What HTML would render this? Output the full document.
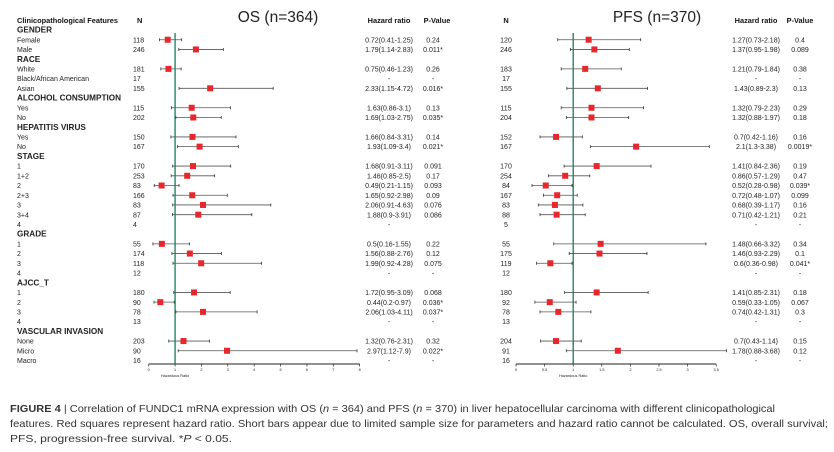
<!DOCTYPE html>
<html><head><meta charset="utf-8">
<style>
html,body{margin:0;padding:0;background:#fff;}
svg{display:block;font-family:"Liberation Sans",Arial,sans-serif;}
</style></head>
<body>
<svg id="fig" width="834" height="452" viewBox="0 0 834 452" xmlns="http://www.w3.org/2000/svg">
<text x="278" y="22" font-size="15.5" text-anchor="middle" fill="#222">OS (n=364)</text>
<text x="657" y="22" font-size="15.5" text-anchor="middle" fill="#222">PFS (n=370)</text>
<text x="17" y="23" font-size="7.4" font-weight="bold" fill="#111">Clinicopathological Features</text>
<text x="137" y="23" font-size="7.4" font-weight="bold" fill="#111">N</text>
<text x="389" y="23" font-size="7.4" font-weight="bold" text-anchor="middle" fill="#111">Hazard ratio</text>
<text x="437" y="23" font-size="7.4" font-weight="bold" text-anchor="middle" fill="#111">P-Value</text>
<text x="506" y="23" font-size="7.4" font-weight="bold" text-anchor="middle" fill="#111">N</text>
<text x="756" y="23" font-size="7.4" font-weight="bold" text-anchor="middle" fill="#111">Hazard ratio</text>
<text x="800" y="23" font-size="7.4" font-weight="bold" text-anchor="middle" fill="#111">P-Value</text>
<g id="rows"></g>
<g id="os"></g>
<g id="pfs"></g>
<g font-size="10.5" fill="#333">
<text x="10" y="412" textLength="765" lengthAdjust="spacingAndGlyphs"><tspan font-weight="bold">FIGURE 4</tspan> | Correlation of FUNDC1 mRNA expression with OS (<tspan font-style="italic">n</tspan> = 364) and PFS (<tspan font-style="italic">n</tspan> = 370) in liver hepatocellular carcinoma with different clinicopathological</text>
<text x="10" y="427" textLength="818" lengthAdjust="spacingAndGlyphs">features. Red squares represent hazard ratio. Short bars appear due to limited sample size for parameters and hazard ratio cannot be calculated. OS, overall survival;</text>
<text x="10" y="442" textLength="222" lengthAdjust="spacingAndGlyphs">PFS, progression-free survival. *<tspan font-style="italic">P</tspan> &lt; 0.05.</text>
</g>
</svg>
<script>
const labels = ["GENDER","Female","Male","RACE","White","Black/African American","Asian","ALCOHOL CONSUMPTION","Yes","No","HEPATITIS VIRUS","Yes","No","STAGE","1","1+2","2","2+3","3","3+4","4","GRADE","1","2","3","4","AJCC_T","1","2","3","4","VASCULAR INVASION","None","Micro","Macro"];
const isHeader = [1,0,0,1,0,0,0,1,0,0,1,0,0,1,0,0,0,0,0,0,0,1,0,0,0,0,1,0,0,0,0,1,0,0,0];
const osN =  [null,118,246,null,181,17,155,null,115,202,null,150,167,null,170,253,83,166,83,87,4,null,55,174,118,12,null,180,90,78,13,null,203,90,16];
const osHR = [null,0.72,1.79,null,0.75,null,2.33,null,1.63,1.69,null,1.66,1.93,null,1.68,1.46,0.49,1.65,2.06,1.88,null,null,0.5,1.56,1.99,null,null,1.72,0.44,2.06,null,null,1.32,2.97,null];
const osLo = [null,0.41,1.14,null,0.46,null,1.15,null,0.86,1.03,null,0.84,1.09,null,0.91,0.85,0.21,0.92,0.91,0.9,null,null,0.16,0.88,0.92,null,null,0.95,0.2,1.03,null,null,0.76,1.12,null];
const osHi = [null,1.25,2.83,null,1.23,null,4.72,null,3.1,2.75,null,3.31,3.4,null,3.11,2.5,1.15,2.98,4.63,3.91,null,null,1.55,2.76,4.28,null,null,3.09,0.97,4.11,null,null,2.31,7.9,null];
const osP =  [null,"0.24","0.011*",null,"0.26","-","0.016*",null,"0.13","0.035*",null,"0.14","0.021*",null,"0.091","0.17","0.093","0.09","0.076","0.086","",null,"0.22","0.12","0.075","-",null,"0.068","0.036*","0.037*","-",null,"0.32","0.022*","-"];
const pfsN =  [null,120,246,null,183,17,155,null,115,204,null,152,167,null,170,254,84,167,83,88,5,null,55,175,119,12,null,180,92,78,13,null,204,91,16];
const pfsHR = [null,1.27,1.37,null,1.21,null,1.43,null,1.32,1.32,null,0.7,2.1,null,1.41,0.86,0.52,0.72,0.68,0.71,null,null,1.48,1.46,0.6,null,null,1.41,0.59,0.74,null,null,0.7,1.78,null];
const pfsLo = [null,0.73,0.95,null,0.79,null,0.89,null,0.79,0.88,null,0.42,1.3,null,0.84,0.57,0.28,0.48,0.39,0.42,null,null,0.66,0.93,0.36,null,null,0.85,0.33,0.42,null,null,0.43,0.88,null];
const pfsHi = [null,2.18,1.98,null,1.84,null,2.3,null,2.23,1.97,null,1.16,3.38,null,2.36,1.29,0.98,1.07,1.17,1.21,null,null,3.32,2.29,0.98,null,null,2.31,1.05,1.31,null,null,1.14,3.68,null];
const pfsP =  [null,"0.4","0.089",null,"0.38","-","0.13",null,"0.29","0.18",null,"0.16","0.0019*",null,"0.19","0.47","0.039*","0.099","0.16","0.21","-",null,"0.34","0.1","0.041*","-",null,"0.18","0.067","0.3","-",null,"0.15","0.12","-"];
const osTicks = [0,1,2,3,4,5,6,7,8];
const pfsTicks = [0,0.5,1,1.5,2,2.5,3,3.5];

const NS = "http://www.w3.org/2000/svg";
function mk(tag, attrs, parent, txt){const e=document.createElementNS(NS,tag);for(const k in attrs)e.setAttribute(k,attrs[k]);if(txt!==undefined)e.textContent=txt;parent.appendChild(e);return e;}
const rowY = i => 30 + i*9.72;
const osX = v => 148.7 + v*26.37;
const pfsX = v => 516 + v*57.2;

const rowsG = document.getElementById('rows');
function fmt(h,l,u){return h===null?"-":h+"("+l+"-"+u+")";}
labels.forEach((lab,i)=>{
  const y = rowY(i)+2.6;
  const t = mk('text',{x:17,y:y,'font-size':isHeader[i]?8.2:7,'font-weight':isHeader[i]?'bold':'normal',fill:'#222'},rowsG,lab);
  
  
  if(isHeader[i]) return;
  const n1 = mk('text',{x:133,y:y,'font-size':7,fill:'#222'},rowsG,String(osN[i]));
  
  
  const h1 = mk('text',{x:389,y:y,'font-size':7,'text-anchor':'middle',fill:'#222'},rowsG,fmt(osHR[i],osLo[i],osHi[i]));
  
  
  const p1 = mk('text',{x:433,y:y,'font-size':7,'text-anchor':'middle',fill:'#222'},rowsG,osP[i]);
  
  
  const n2 = mk('text',{x:506,y:y,'font-size':7,'text-anchor':'middle',fill:'#222'},rowsG,String(pfsN[i]));
  
  
  const h2 = mk('text',{x:756,y:y,'font-size':7,'text-anchor':'middle',fill:'#222'},rowsG,fmt(pfsHR[i],pfsLo[i],pfsHi[i]));
  
  
  const p2 = mk('text',{x:800,y:y,'font-size':7,'text-anchor':'middle',fill:'#222'},rowsG,pfsP[i]);
  
  
});

function panel(gid, X, ticks, hr, lo, hi, prefix){
  const g = document.getElementById(gid);
  const axY = 364;
  const ax = mk('line',{x1:X(ticks[0]),x2:X(ticks[ticks.length-1]),y1:axY,y2:axY,stroke:'#222','stroke-width':1},g);
  
  
  ticks.forEach(t=>{
    const tk = mk('line',{x1:X(t),x2:X(t),y1:axY,y2:axY+2.5,stroke:'#222','stroke-width':0.7},g);
    
    
    const tl = mk('text',{x:X(t),y:axY+7,'font-size':3.8,'text-anchor':'middle',fill:'#222'},g,String(t));
    
    
  });
  const at = mk('text',{x:X(1),y:axY+13,'font-size':3.8,'text-anchor':'middle',fill:'#222'},g,'Hazardous Ratio');
  
  
  hr.forEach((h,i)=>{
    if(h===null) return;
    const y = rowY(i);
    const wl = mk('line',{x1:X(lo[i]),x2:X(hi[i]),y1:y,y2:y,stroke:'#555','stroke-width':0.8},g);
    
    
    [lo[i],hi[i]].forEach(v=>{
      const c = mk('line',{x1:X(v),x2:X(v),y1:y-1.5,y2:y+1.5,stroke:'#333','stroke-width':0.8},g);
      
      
    });
    const sq = mk('rect',{x:X(h)-3,y:y-3,width:6,height:6,fill:'#e8262b'},g);
    
    
  });
  const ref = mk('line',{x1:X(1),x2:X(1),y1:33,y2:axY,stroke:'#1a7a5e','stroke-width':1.3},g);
  
  
}
panel('os', osX, osTicks, osHR, osLo, osHi, 'os');
panel('pfs', pfsX, pfsTicks, pfsHR, pfsLo, pfsHi, 'pfs');
</script>
</body></html>
